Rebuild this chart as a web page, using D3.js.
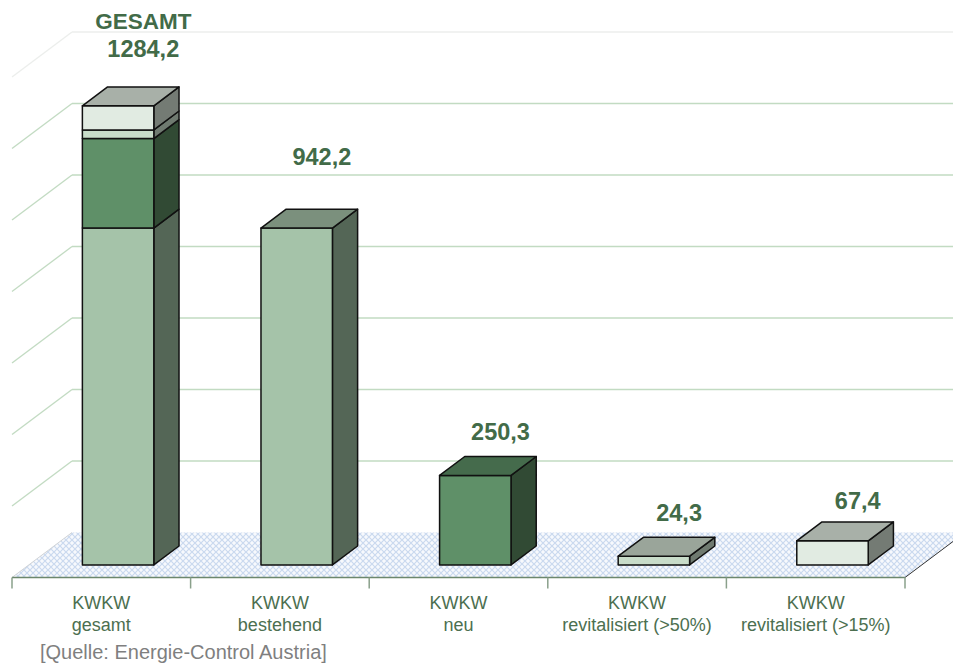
<!DOCTYPE html>
<html>
<head>
<meta charset="utf-8">
<script src="https://cdn.jsdelivr.net/npm/d3@7"></script>
<style>
  body { margin: 0; background: #fff; }
  svg { display: block; font-family: Arial, "Liberation Sans", sans-serif; }
</style>
</head>
<body>
<div id="chart"></div>
<script>
// categories (two text lines each)
const categories = ["gesamt", "bestehend", "neu", "rev50", "rev15"];
const categoryLine1 = ["KWKW", "KWKW", "KWKW", "KWKW", "KWKW"];
const categoryLine2 = ["gesamt", "bestehend", "neu", "revitalisiert (>50%)", "revitalisiert (>15%)"];

// series values (MW), stacked in the first column
const seriesKeys = ["bestehend", "neu", "rev50", "rev15"];
const bestehend = [942.2, 942.2, 0, 0, 0];
const neu = [250.3, 0, 250.3, 0, 0];
const rev50 = [24.3, 0, 0, 24.3, 0];
const rev15 = [67.4, 0, 0, 0, 67.4];

const gridValues = [200, 400, 600, 800, 1000, 1200, 1400];
const totalPrefix = ["GESAMT", "", "", "", ""];
const source = "[Quelle: Energie-Control Austria]";

// layout / style
const width = 953, height = 666;
const left = 12, right = 905, floorY = 577.5, pxPerUnit = 0.3575;
const depthX = 60, depthY = 45;      // full depth of the box
const zFront = 0.28, zBack = 0.70;   // where the bars sit in depth
const labelLift = [30, 44, 17, 16, 13];

const colors = {
  bestehend: { front: "#a5c3a9", side: "#546656", top: "#7b907d" },
  neu:       { front: "#5f9068", side: "#314a34", top: "#456b4c" },
  rev50:     { front: "#c8dcc9", side: "#6f7a70", top: "#9aa59a" },
  rev15:     { front: "#e1ebe2", side: "#747b74", top: "#a8b0a8" }
};

const table = categories.map((c, i) => ({
  cat: c, bestehend: bestehend[i], neu: neu[i], rev50: rev50[i], rev15: rev15[i]
}));
const stacked = d3.stack().keys(seriesKeys)(table);

const x = d3.scaleBand().domain(categories).range([left, right]).padding(0);
const y = d3.scaleLinear().domain([0, 1400]).range([floorY, floorY - 1400 * pxPerUnit]);

const proj = (px, py, z) => [px + z * depthX, py - z * depthY];
const line = d3.line();

const svg = d3.select("#chart").append("svg")
  .attr("width", width).attr("height", height);

// floor pattern
const defs = svg.append("defs");
const pat = defs.append("pattern")
  .attr("id", "floor").attr("patternUnits", "userSpaceOnUse")
  .attr("width", 6).attr("height", 6);
pat.append("rect").attr("width", 6).attr("height", 6).attr("fill", "#f7f9fd");
pat.append("path").attr("d", "M0,0L6,6M6,0L0,6")
  .attr("stroke", "#cad9ef").attr("stroke-width", 1.2);

// back wall gridlines and side wall diagonals
const grid = svg.append("g");
gridValues.forEach(v => {
  const faint = v === 1400;
  const col = faint ? "#eceeec" : "#c2dbc2";
  grid.append("path")
    .attr("d", line([proj(left, y(v), 1), proj(right, y(v), 1)]))
    .attr("stroke", col).attr("stroke-width", 1.3).attr("fill", "none");
  grid.append("path")
    .attr("d", line([proj(left, y(v), 1), proj(left, y(v), 0)]))
    .attr("stroke", col).attr("stroke-width", 1.3).attr("fill", "none");
});

// floor
svg.append("path")
  .attr("d", line([proj(left, y(0), 0), proj(right, y(0), 0), proj(right, y(0), 1), proj(left, y(0), 1)]) + "Z")
  .attr("fill", "url(#floor)").attr("stroke", "none");
svg.append("path")
  .attr("d", line([proj(left, y(0), 0), proj(left, y(0), 1)]))
  .attr("stroke", "#d0d3d6").attr("stroke-width", 1).attr("fill", "none");
svg.append("path")
  .attr("d", line([proj(right, y(0), 0), proj(right, y(0), 1)]))
  .attr("stroke", "#333").attr("stroke-width", 1).attr("fill", "none");

// category axis
const axis = svg.append("g");
axis.append("path")
  .attr("d", line([[left, floorY], [right, floorY]]))
  .attr("stroke", "#6c876d").attr("stroke-width", 1.5).attr("fill", "none");
d3.range(categories.length + 1).forEach(i => {
  const tx = left + i * x.bandwidth();
  axis.append("path")
    .attr("d", line([[tx, floorY], [tx, floorY + 11]]))
    .attr("stroke", "#8aa08b").attr("stroke-width", 1.5);
});

const catText = svg.append("g").attr("fill", "#4c6f50").attr("font-size", 18)
  .attr("text-anchor", "middle");
categories.forEach((c, i) => {
  const cx = x(c) + x.bandwidth() / 2;
  catText.append("text").attr("x", cx).attr("y", 609).text(categoryLine1[i]);
  catText.append("text").attr("x", cx).attr("y", 631).text(categoryLine2[i]);
});

// bars
const barW = x.bandwidth() * 0.4;
const bars = svg.append("g").attr("stroke", "#111").attr("stroke-width", 1.5)
  .attr("stroke-linejoin", "round");

categories.forEach((c, i) => {
  const x0 = x(c) + (x.bandwidth() - barW) / 2, x1 = x0 + barW;
  const segs = stacked.map(s => ({ key: s.key, y0: s[i][0], y1: s[i][1] }))
    .filter(s => s.y1 - s.y0 > 0);
  segs.forEach((s, j) => {
    const yb = y(s.y0), yt = y(s.y1);
    const col = colors[s.key];
    // side face
    bars.append("path")
      .attr("d", line([proj(x1, yb, zFront), proj(x1, yb, zBack), proj(x1, yt, zBack), proj(x1, yt, zFront)]) + "Z")
      .attr("fill", col.side);
    // front face
    bars.append("path")
      .attr("d", line([proj(x0, yb, zFront), proj(x1, yb, zFront), proj(x1, yt, zFront), proj(x0, yt, zFront)]) + "Z")
      .attr("fill", col.front);
    if (j === segs.length - 1) {
      bars.append("path")
        .attr("d", line([proj(x0, yt, zFront), proj(x1, yt, zFront), proj(x1, yt, zBack), proj(x0, yt, zBack)]) + "Z")
        .attr("fill", col.top);
    }
  });
});

// value labels
const fmt = v => d3.format(".1f")(v).replace(".", ",");
const valText = svg.append("g").attr("fill", "#426b48").attr("font-size", 23.5)
  .attr("font-weight", "bold").attr("text-anchor", "middle");
categories.forEach((c, i) => {
  const total = seriesKeys.reduce((a, k) => a + table[i][k], 0);
  const x0 = x(c) + (x.bandwidth() - barW) / 2;
  const [bx, by] = proj(x0 + barW / 2, y(total), zBack);
  const ty = by - labelLift[i];
  valText.append("text").attr("x", bx).attr("y", ty).text(fmt(total));
  if (totalPrefix[i]) {
    valText.append("text").attr("x", bx).attr("y", ty - 28)
      .attr("font-size", 22.5).text(totalPrefix[i]);
  }
});

svg.append("text").attr("x", 40).attr("y", 659)
  .attr("font-size", 20).attr("fill", "#7f7f7f").text(source);
</script>
</body>
</html>
